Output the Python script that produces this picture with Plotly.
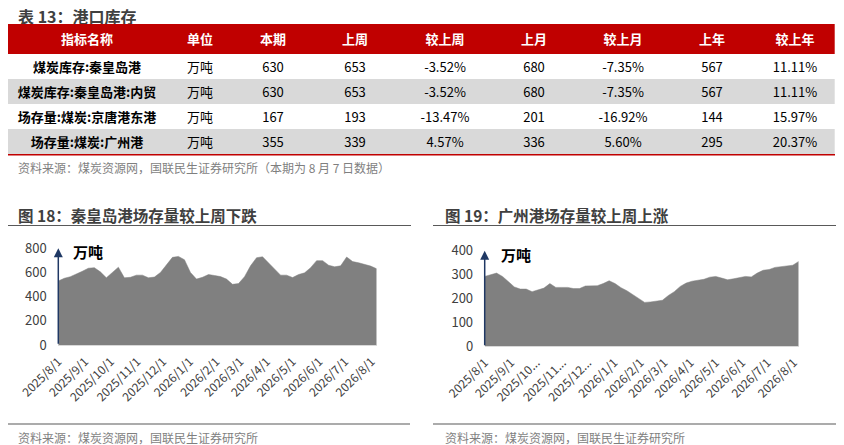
import pandas as pd
import plotly.graph_objects as go

# the page body adds an 8px margin, so the figure is 8px smaller and every
# reference pixel position is shifted by that offset
OX, OY = 8, 8
W, H = 844 - OX, 445 - OY
FONT = "Noto Sans CJK SC"

# 表 13 data
col_names = ["指标名称", "单位", "本期", "上周", "较上周", "上月", "较上月", "上年", "较上年"]
row_names = ["煤炭库存:秦皇岛港", "煤炭库存:秦皇岛港:内贸", "场存量:煤炭:京唐港东港", "场存量:煤炭:广州港"]
units = ["万吨", "万吨", "万吨", "万吨"]
this_week = [630, 630, 167, 355]
last_week = [653, 653, 193, 339]
wow = ["-3.52%", "-3.52%", "-13.47%", "4.57%"]
last_month = [680, 680, 201, 336]
mom = ["-7.35%", "-7.35%", "-16.92%", "5.60%"]
last_year = [567, 567, 144, 295]
yoy = ["11.11%", "11.11%", "15.97%", "20.37%"]

# weekly series, 2025/8/1 - 2026/8/7
dates = pd.date_range("2025-08-01", periods=54, freq="7D")
qhd = [530, 552, 565, 585, 610, 635, 640, 605, 556, 600,
       644, 556, 560, 578, 578, 556, 562, 600, 667, 725,
       733, 705, 600, 545, 560, 583, 575, 566, 545, 502,
       508, 565, 655, 722, 730, 680, 628, 578, 578, 558,
       583, 597, 640, 698, 698, 660, 647, 655, 728, 690,
       680, 665, 653, 630]
gz = [292, 300, 306, 292, 270, 248, 239, 239, 228, 234,
      243, 262, 246, 246, 246, 241, 241, 252, 253, 253,
      262, 274, 262, 245, 232, 216, 198, 183, 185, 188,
      192, 212, 228, 250, 264, 272, 277, 280, 289, 292,
      285, 278, 282, 287, 292, 290, 306, 318, 321, 330,
      333, 334, 339, 355]

tick_dates = pd.date_range("2025-08-01", "2026-08-01", freq="MS")
ticks_left = ["2025/8/1", "2025/9/1", "2025/10/1", "2025/11/1", "2025/12/1", "2026/1/1", "2026/2/1",
              "2026/3/1", "2026/4/1", "2026/5/1", "2026/6/1", "2026/7/1", "2026/8/1"]
ticks_right = ["2025/8/1", "2025/9/1", "2025/10...", "2025/11...", "2025/12...", "2026/1/1", "2026/2/1",
               "2026/3/1", "2026/4/1", "2026/5/1", "2026/6/1", "2026/7/1", "2026/8/1"]


def px_x(x):
    return max(0.0, (x - OX) / W)


def px_y(y):
    return 1 - (y - OY) / H


fig = go.Figure()

# table drawn as heatmaps with cell text (column widths and row heights in px)
col_w = [157, 70, 75, 90, 90, 88, 90, 88, 78.7]
x_edges = [0]
for w in col_w:
    x_edges.append(x_edges[-1] + w)
tbl_left, tbl_top = 8, 24
head_h, row_h = 30, 25

fig.add_trace(go.Heatmap(
    x=x_edges, y=[0, head_h], z=[[0] * 9],
    text=[["<b>%s</b>" % c for c in col_names]], texttemplate="%{text}",
    textfont=dict(family=FONT, size=13, color="white"),
    colorscale=[[0, "#C00000"], [1, "#C00000"]], showscale=False, hoverinfo="skip",
    xaxis="x3", yaxis="y3"))

body_cols = [["<b>%s</b>" % r for r in row_names], units, this_week, last_week, wow,
             last_month, mom, last_year, yoy]
body_text = [[str(col[i]) for col in body_cols] for i in range(len(row_names))]
fig.add_trace(go.Heatmap(
    x=x_edges, y=[head_h + row_h * i for i in range(len(row_names) + 1)],
    z=[[i % 2] * 9 for i in range(len(row_names))],
    text=body_text, texttemplate="%{text}",
    textfont=dict(family=FONT, size=13, color="black"),
    colorscale=[[0, "white"], [1, "#D9D9D9"]], zmin=0, zmax=1, showscale=False, hoverinfo="skip",
    xaxis="x3", yaxis="y3"))

# area charts
fig.add_trace(go.Scatter(x=dates, y=qhd, mode="lines", fill="tozeroy",
                         fillcolor="#808080", line=dict(color="#808080", width=0.5),
                         xaxis="x", yaxis="y", showlegend=False))
fig.add_trace(go.Scatter(x=dates, y=gz, mode="lines", fill="tozeroy",
                         fillcolor="#808080", line=dict(color="#808080", width=0.5),
                         xaxis="x2", yaxis="y2", showlegend=False))

xcommon = dict(type="date", range=[dates[0], dates[-1]], tickmode="array", tickvals=tick_dates,
               tickangle=-45, tickfont=dict(family=FONT, size=12, color="#404040"),
               showgrid=False, zeroline=False, showline=True, linecolor="#D9D9D9",
               ticks="outside", ticklen=4, tickcolor="rgba(0,0,0,0)", automargin=False)
ycommon = dict(showgrid=False, zeroline=False, showline=False, automargin=False,
               tickfont=dict(family=FONT, size=13, color="#404040"),
               ticks="outside", ticklen=8, tickcolor="rgba(0,0,0,0)")
tbl_total_h = head_h + row_h * len(row_names)

fig.update_layout(
    width=W, height=H, margin=dict(l=0, r=0, t=0, b=0),
    paper_bgcolor="white", plot_bgcolor="white",
    font=dict(family=FONT),
    xaxis=dict(domain=[px_x(58.3), px_x(376.7)], anchor="y", ticktext=ticks_left, **xcommon),
    yaxis=dict(domain=[px_y(345), px_y(248.3)], anchor="x", range=[0, 800],
               tickvals=[0, 200, 400, 600, 800], **ycommon),
    xaxis2=dict(domain=[px_x(484.7), px_x(798.7)], anchor="y2", ticktext=ticks_right, **xcommon),
    yaxis2=dict(domain=[px_y(346), px_y(250.7)], anchor="x2", range=[0, 400],
                tickvals=[0, 100, 200, 300, 400], **ycommon),
    xaxis3=dict(domain=[px_x(tbl_left), px_x(tbl_left + x_edges[-1])], anchor="y3",
                range=[0, x_edges[-1]], visible=False, automargin=False),
    yaxis3=dict(domain=[px_y(tbl_top + tbl_total_h), px_y(tbl_top)], anchor="x3",
                range=[tbl_total_h, 0], visible=False, automargin=False),
)

# y axis arrows
for xr, yr, top, length in [("x", "y", 800, 97), ("x2", "y2", 400, 96)]:
    fig.add_annotation(x=dates[0], y=top, xref=xr, yref=yr, ax=0, ay=length, text="",
                       showarrow=True, arrowhead=2, arrowsize=1.2, arrowwidth=1.5,
                       arrowcolor="#1F3864")

texts = [
    (16, 16, "<b>表 13：港口库存</b>", 16, "#404040"),
    (16, 167, "资料来源：煤炭资源网，国联民生证券研究所（本期为 8 月 7 日数据）", 12, "#7F7F7F"),
    (16, 215, "<b>图 18：秦皇岛港场存量较上周下跌</b>", 15.5, "#404040"),
    (442.7, 215, "<b>图 19：广州港场存量较上周上涨</b>", 15.5, "#404040"),
    (71, 251, "<b>万吨</b>", 15, "black"),
    (498.7, 255, "<b>万吨</b>", 15, "black"),
    (16, 437, "资料来源：煤炭资源网，国联民生证券研究所", 12, "#7F7F7F"),
    (442.7, 437, "资料来源：煤炭资源网，国联民生证券研究所", 12, "#7F7F7F"),
]
for x, y, t, s, c in texts:
    fig.add_annotation(x=px_x(x), y=px_y(y), xref="paper", yref="paper", text=t, showarrow=False,
                       xanchor="left", yanchor="middle", font=dict(family=FONT, size=s, color=c),
                       height=16 if y < 20 else None)

# red line under table, title rules
lines = [(8, 835, 154.8, "#C00000", 1.5),
         (8, 411, 225.5, "#595959", 1.2), (433, 837, 225.5, "#595959", 1.2),
         (8, 410, 424, "#595959", 1.2), (433, 837, 424, "#595959", 1.2)]
for x0, x1, y, c, w in lines:
    fig.add_shape(type="line", xref="paper", yref="paper", x0=px_x(x0), x1=px_x(x1),
                  y0=px_y(y), y1=px_y(y), line=dict(color=c, width=w))

fig.write_html("out.html")
